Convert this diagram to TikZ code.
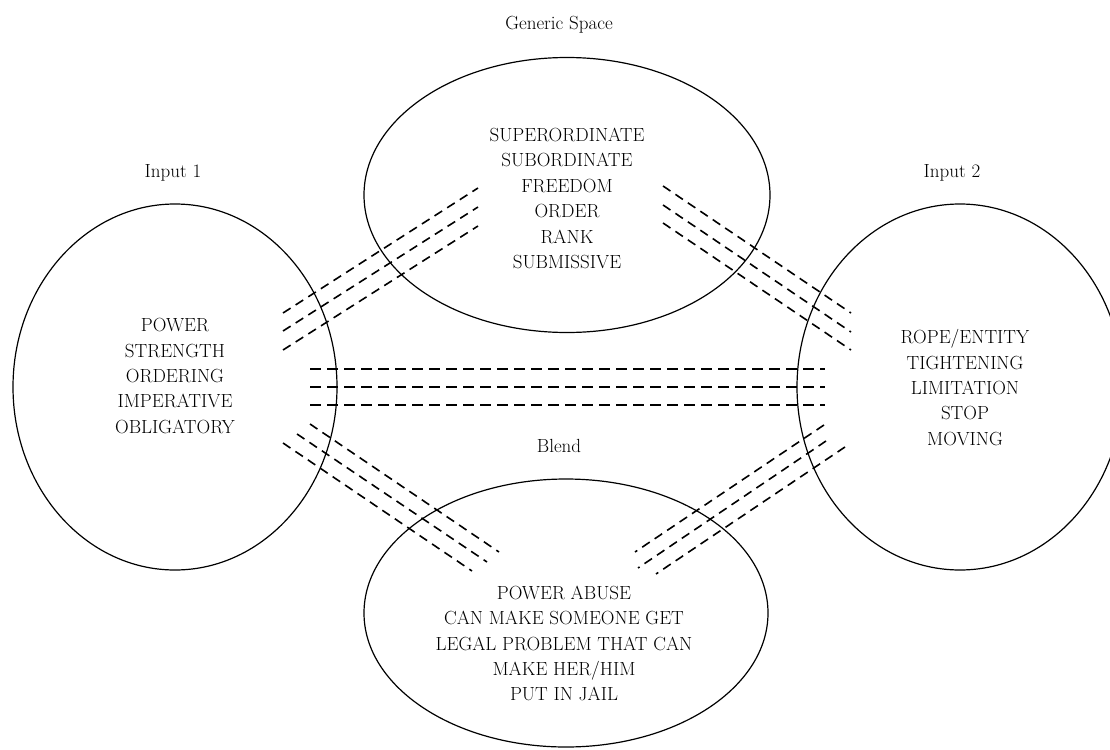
\documentclass[tikz,border=0pt]{standalone}
\usetikzlibrary{shapes.geometric}
\begin{document}
\begin{tikzpicture}[x=1pt,y=-1pt,
  space/.style={draw=black, line width=1.2pt, ellipse, inner sep=0pt, outer sep=0pt},
  txt/.style={align=center, inner sep=0pt, font=\fontsize{19}{25.4}\selectfont},
  lbl/.style={inner sep=0pt, font=\fontsize{19}{23}\selectfont},
  maplink/.style={line width=1.6pt, dash pattern=on 9pt off 6pt},
  hlink/.style={line width=1.6pt, dash pattern=on 11pt off 6pt}]
\useasboundingbox (0,0) rectangle (1110,749);
\clip (0,0) rectangle (1110,749);
\fill[white] (0,0) rectangle (1110,749);

% spaces
\node[space, minimum width=324pt, minimum height=366pt] (in1) at (175,387) {};
\node[space, minimum width=406pt, minimum height=275pt] (gen) at (567,195) {};
\node[space, minimum width=326pt, minimum height=366pt] (in2) at (960,387) {};
\node[space, minimum width=404pt, minimum height=268pt] (bl) at (566,613) {};

% titles
\node[lbl] (tgen) at (559,25) {Generic Space};
\node[lbl] (tin1) at (173,173) {Input 1};
\node[lbl] (tin2) at (952,173) {Input 2};
\node[lbl] (tbl) at (559,446) {Blend};

% contents
\node[txt] (cgen) at (567,198.5) {SUPERORDINATE\\SUBORDINATE\\FREEDOM\\ORDER\\RANK\\SUBMISSIVE};
\node[txt] (cin1) at (175,376) {POWER\\STRENGTH\\ORDERING\\IMPERATIVE\\OBLIGATORY};
\node[txt] (cin2) at (965,387.5) {ROPE/ENTITY\\TIGHTENING\\LIMITATION\\STOP\\MOVING};
\node[txt] (cbl) at (564,643.5) {POWER ABUSE\\CAN MAKE SOMEONE GET\\LEGAL PROBLEM THAT CAN\\MAKE HER/HIM\\PUT IN JAIL};

% link end points
\coordinate (ul1a) at (283,313); \coordinate (ul1b) at (478,188);
\coordinate (ul2a) at (283,331); \coordinate (ul2b) at (478,207);
\coordinate (ul3a) at (283,350); \coordinate (ul3b) at (478,226);

\coordinate (ur1a) at (663,186); \coordinate (ur1b) at (851,313);
\coordinate (ur2a) at (663,205); \coordinate (ur2b) at (851,332);
\coordinate (ur3a) at (663,223); \coordinate (ur3b) at (851,350);

\coordinate (h1a) at (310,369); \coordinate (h1b) at (825,369);
\coordinate (h2a) at (310,387); \coordinate (h2b) at (825,387);
\coordinate (h3a) at (310,405); \coordinate (h3b) at (825,405);

\coordinate (ll1a) at (310,424); \coordinate (ll1b) at (499,552);
\coordinate (ll2a) at (297,434); \coordinate (ll2b) at (487,562);
\coordinate (ll3a) at (283,443); \coordinate (ll3b) at (472,571);

\coordinate (lr1a) at (824,425); \coordinate (lr1b) at (635,552);
\coordinate (lr2a) at (826,441); \coordinate (lr2b) at (638,568);
\coordinate (lr3a) at (845,447); \coordinate (lr3b) at (656,574);

% links
\draw[maplink] (ul1a) -- (ul1b);
\draw[maplink] (ul2a) -- (ul2b);
\draw[maplink] (ul3a) -- (ul3b);
\draw[maplink] (ur1a) -- (ur1b);
\draw[maplink] (ur2a) -- (ur2b);
\draw[maplink] (ur3a) -- (ur3b);
\draw[hlink] (h1a) -- (h1b);
\draw[hlink] (h2a) -- (h2b);
\draw[hlink] (h3a) -- (h3b);
\draw[maplink] (ll1a) -- (ll1b);
\draw[maplink] (ll2a) -- (ll2b);
\draw[maplink] (ll3a) -- (ll3b);
\draw[maplink] (lr1a) -- (lr1b);
\draw[maplink] (lr2a) -- (lr2b);
\draw[maplink] (lr3a) -- (lr3b);
\end{tikzpicture}
\end{document}
